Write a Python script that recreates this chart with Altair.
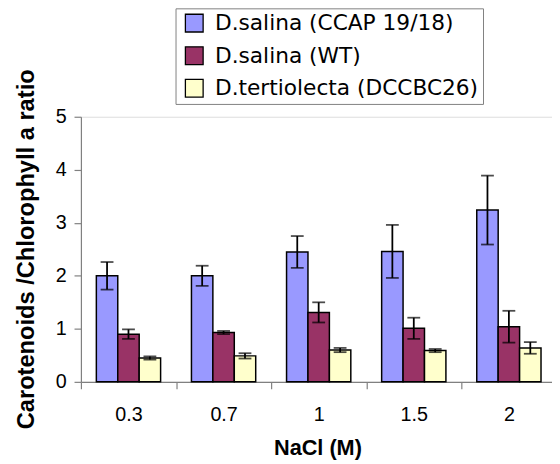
import altair as alt
import pandas as pd

nacl = ["0.3", "0.7", "1", "1.5", "2"]
strains = ["D.salina (CCAP 19/18)", "D.salina (WT)", "D.tertiolecta (DCCBC26)"]
ccap = [2.00, 2.00, 2.45, 2.46, 3.24]
ccap_err = [0.26, 0.19, 0.30, 0.50, 0.65]
wt = [0.90, 0.93, 1.31, 1.01, 1.04]
wt_err = [0.09, 0.03, 0.19, 0.20, 0.30]
tert = [0.45, 0.49, 0.60, 0.59, 0.64]
tert_err = [0.03, 0.05, 0.04, 0.03, 0.11]
colors = ["#9999FF", "#993366", "#FFFFCC"]

rows = []
for strain, vals, errs in zip(strains, [ccap, wt, tert], [ccap_err, wt_err, tert_err]):
    for n, v, e in zip(nacl, vals, errs):
        rows.append({"nacl": n, "strain": strain, "value": v, "lo": v - e, "hi": v + e})
df = pd.DataFrame(rows)

FONT = "Liberation Sans"
LFONT = "DejaVu Sans"
YTITLE = "Carotenoids /Chlorophyll a ratio"

x = alt.X(
    "nacl:N",
    title="NaCl (M)",
    scale=alt.Scale(domain=nacl, range=[0, 482.5], paddingInner=0, paddingOuter=0),
    axis=alt.Axis(
        labelAngle=0, tickBand="extent", tickSize=7, labelPadding=26,
        labelBaseline="middle", labelFont=FONT, labelFontSize=20, labelColor="black",
        domainColor="#808080", tickColor="#808080", domainWidth=1.2, tickWidth=1.2,
        titleFont=FONT, titleFontSize=22, titleFontWeight="bold", titleColor="black",
        titleX=240, titleY=67, titleAlign="center", titleBaseline="middle",
    ),
)
xoff = alt.XOffset("strain:N", scale=alt.Scale(domain=strains, paddingInner=0, paddingOuter=0.72))

yaxis = alt.Axis(
    values=[0, 1, 2, 3, 4, 5], grid=False, tickSize=7, labelPadding=8,
    labelFont=FONT, labelFontSize=20, labelColor="black",
    domainColor="#808080", tickColor="#808080", domainWidth=1.2, tickWidth=1.2,
    titleFont=FONT, titleFontSize=24, titleFontWeight="bold", titleColor="black",
    titleX=-55, titleY=134, titleAlign="center", titleBaseline="middle", titleAngle=270,
)
yscale = alt.Scale(domain=[0, 5], nice=False)

base = alt.Chart(df)

bars = base.mark_bar(stroke="black", strokeWidth=1.5).encode(
    x=x,
    xOffset=xoff,
    y=alt.Y("value:Q", title=YTITLE, scale=yscale, axis=yaxis),
    color=alt.Color(
        "strain:N",
        scale=alt.Scale(domain=strains, range=colors),
        legend=alt.Legend(
            title=None, orient="none", legendX=96, legendY=-110, direction="vertical",
            strokeColor="#808080", fillColor="white", padding=4, rowPadding=9,
            symbolType="square", symbolSize=324, symbolStrokeColor="black",
            symbolStrokeWidth=1.3, symbolOffset=4, labelFont=LFONT, labelFontSize=22,
            labelColor="black", labelOffset=10, labelLimit=400,
        ),
    ),
)

rules = base.mark_rule(color="black", strokeWidth=1.8).encode(
    x=x, xOffset=xoff,
    y=alt.Y("lo:Q", title=YTITLE, scale=yscale, axis=yaxis),
    y2="hi:Q",
)
caps_hi = base.mark_tick(color="black", thickness=1.8, size=13).encode(
    x=x, xOffset=xoff, y=alt.Y("hi:Q", title=YTITLE, scale=yscale, axis=yaxis),
)
caps_lo = base.mark_tick(color="black", thickness=1.8, size=13).encode(
    x=x, xOffset=xoff, y=alt.Y("lo:Q", title=YTITLE, scale=yscale, axis=yaxis),
)

chart = alt.layer(bars, rules, caps_hi, caps_lo).properties(
    width=478,
    height=269,
    autosize=alt.AutoSizeParams(type="none"),
    padding={"left": 74, "top": 107, "right": 0, "bottom": 80},
).configure_view(stroke=None).configure(background="white")

chart.save("out.html", embed_options={"renderer": "svg", "actions": False})
